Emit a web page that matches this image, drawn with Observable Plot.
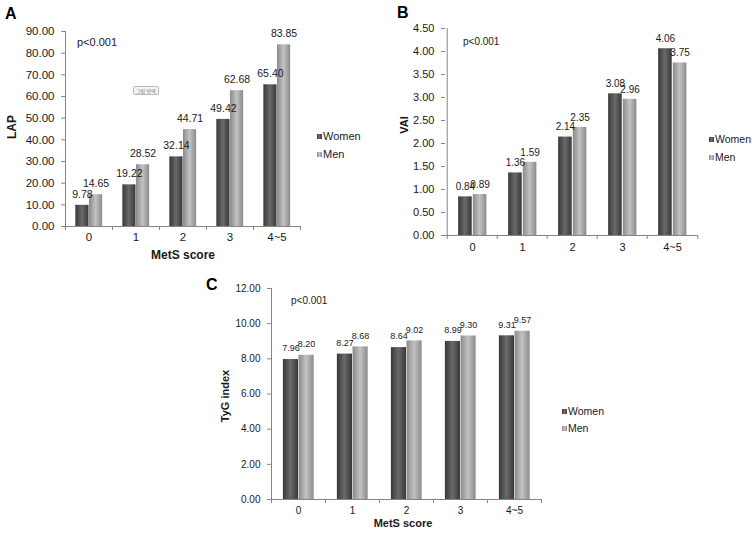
<!DOCTYPE html>
<html><head><meta charset="utf-8">
<script src="https://cdn.jsdelivr.net/npm/d3@7"></script>
<script src="https://cdn.jsdelivr.net/npm/@observablehq/plot@0.6"></script>
<style>
body{margin:0;background:#fff;font-family:"Liberation Sans",Arial,sans-serif;}
#root{position:relative;width:752px;height:534px;overflow:hidden;background:#fff}
.abs{position:absolute;white-space:nowrap;color:#1a1a1a;line-height:1}
.c{transform:translate(-50%,-50%)}
.r{transform:translate(-50%,-50%) rotate(-90deg)}
.b{font-weight:bold}
.sq{position:absolute;width:5px;height:5px}
.sw{background:linear-gradient(90deg,#3a3a3a,#6e6e6e 50%,#3a3a3a)}
.sm{background:linear-gradient(90deg,#8a8a8a,#c4c4c4 50%,#8a8a8a)}
svg [aria-label^="y-axis"] line, svg [aria-label="y-axis tick"] path{stroke:#868686}
</style></head>
<body><div id="root">
<svg width="0" height="0" style="position:absolute">
<defs>
<linearGradient id="gW" x1="0" x2="1" y1="0" y2="0">
<stop offset="0" stop-color="#383838"/><stop offset="0.5" stop-color="#6a6a6a"/><stop offset="1" stop-color="#383838"/>
</linearGradient>
<linearGradient id="gM" x1="0" x2="1" y1="0" y2="0">
<stop offset="0" stop-color="#8a8a8a"/><stop offset="0.5" stop-color="#c2c2c2"/><stop offset="1" stop-color="#8a8a8a"/>
</linearGradient>
</defs></svg>
</div>
<script>
const categories = ["0", "1", "2", "3", "4~5"];
const seriesNames = ["Women", "Men"];
const lapWomen = [9.78, 19.22, 32.14, 49.42, 65.40];
const lapMen = [14.65, 28.52, 44.71, 62.68, 83.85];
const vaiWomen = [0.84, 1.36, 2.14, 3.08, 4.06];
const vaiMen = [0.89, 1.59, 2.35, 2.96, 3.75];
const tygWomen = [7.96, 8.27, 8.64, 8.99, 9.31];
const tygMen = [8.20, 8.68, 9.02, 9.30, 9.57];
const lapTicks = [0, 10, 20, 30, 40, 50, 60, 70, 80, 90];
const vaiTicks = [0, 0.5, 1, 1.5, 2, 2.5, 3, 3.5, 4, 4.5];
const tygTicks = [0, 2, 4, 6, 8, 10, 12];
const pText = "p<0.001";
const xTitle = "MetS score";

const root = document.getElementById("root");

function add(html, cls, style) {
  const d = document.createElement("div");
  d.className = "abs " + (cls || "");
  d.textContent = html;
  Object.assign(d.style, style);
  root.appendChild(d);
  return d;
}

function panel(o) {
  const fw = o.width - o.ml - o.mr, fh = o.height - o.mt - o.mb;
  const bw = fw / categories.length;
  const ymax = o.ticks[o.ticks.length - 1];
  const W = categories.map((c, i) => ({c, s: seriesNames[0], v: o.women[i]}));
  const M = categories.map((c, i) => ({c, s: seriesNames[1], v: o.men[i]}));
  const wL = 0.22 * bw, wR = 0.50 * bw, mL = 0.51 * bw, mR = 0.79 * bw;
  const tl = ymax * 4 / fh;
  const stroke = "#868686";
  const p = Plot.plot({
    width: o.width, height: o.height,
    marginLeft: o.ml, marginRight: o.mr, marginTop: o.mt, marginBottom: o.mb,
    style: {fontFamily: '"Liberation Sans", Arial, sans-serif', fontSize: o.fs + "px", color: "#1a1a1a", background: "transparent", overflow: "visible"},
    x: {domain: categories, padding: 0, tickSize: 0, tickPadding: o.xpad, label: null},
    y: {domain: [0, ymax], ticks: o.ticks, tickFormat: d3.format(".2f"), tickSize: 4, tickPadding: o.ypad, label: null},
    marks: [
      Plot.barY(W, {x: "c", y: "v", fill: "url(#gW)", insetLeft: wL, insetRight: bw - wR}),
      Plot.barY(M, {x: "c", y: "v", fill: "url(#gM)", insetLeft: mL, insetRight: bw - mR}),
      Plot.ruleY([0], {stroke}),
      Plot.ruleX([categories[0]], {x: d => d, dx: -bw / 2, y1: 0, y2: ymax, stroke}),
      Plot.ruleX(categories, {x: d => d, dx: -bw / 2, y1: 0, y2: -tl, stroke}),
      Plot.ruleX([categories[categories.length - 1]], {x: d => d, dx: bw / 2, y1: 0, y2: -tl, stroke}),
      Plot.text(W, {x: "c", y: "v", text: d => d.v.toFixed(2), dx: (wL + wR) / 2 - bw / 2, dy: -o.ldy, fontSize: o.lfs, fill: "#1a1a1a"}),
      Plot.text(M, {x: "c", y: "v", text: d => d.v.toFixed(2), dx: (mL + mR) / 2 - bw / 2, dy: -o.ldy, fontSize: o.lfs, fill: "#1a1a1a"})
    ]
  });
  p.style.position = "absolute";
  p.style.left = o.left + "px";
  p.style.top = o.top + "px";
  root.appendChild(p);
}

// Panel A
panel({left: 0, top: 0, width: 310, height: 262, ml: 65, mr: 10, mt: 31, mb: 36,
  women: lapWomen, men: lapMen, ticks: lapTicks, fs: 11.5, xpad: 6, ypad: 7, lfs: 10.5, ldy: 11});
// Panel B
panel({left: 380, top: 0, width: 325, height: 262, ml: 65, mr: 7, mt: 28, mb: 27,
  women: vaiWomen, men: vaiMen, ticks: vaiTicks, fs: 11, xpad: 8, ypad: 7, lfs: 10, ldy: 10});
// Panel C
panel({left: 200, top: 265, width: 351, height: 269, ml: 71, mr: 10, mt: 23, mb: 35,
  women: tygWomen, men: tygMen, ticks: tygTicks, fs: 10, xpad: 7, ypad: 7, lfs: 9, ldy: 11});

// Panel letters
add("A", "b", {left: "5px", top: "6px", fontSize: "16px", color: "#000"});
add("B", "b", {left: "397px", top: "5px", fontSize: "16px", color: "#000"});
add("C", "b", {left: "206px", top: "277px", fontSize: "16px", color: "#000"});

// p values
add(pText, "", {left: "77px", top: "37px", fontSize: "11px"});
add(pText, "", {left: "463px", top: "37px", fontSize: "10px"});
add(pText, "", {left: "291px", top: "296px", fontSize: "10px"});

// axis titles
add("LAP", "r b", {left: "12px", top: "127px", fontSize: "12px"});
add("VAI", "r b", {left: "404px", top: "125px", fontSize: "11px"});
add("TyG index", "r b", {left: "225px", top: "396px", fontSize: "11px"});
add(xTitle, "c b", {left: "183px", top: "255px", fontSize: "12px"});
add(xTitle, "c b", {left: "403px", top: "523px", fontSize: "11px"});

// legends
function legend(x, y1, y2, fs) {
  const s1 = document.createElement("div"); s1.className = "sq sw";
  Object.assign(s1.style, {left: x + "px", top: (y1 - 2.5) + "px"}); root.appendChild(s1);
  const s2 = document.createElement("div"); s2.className = "sq sm";
  Object.assign(s2.style, {left: x + "px", top: (y2 - 2.5) + "px"}); root.appendChild(s2);
  add(seriesNames[0], "", {left: (x + 6) + "px", top: (y1 - fs / 2) + "px", fontSize: fs + "px"});
  add(seriesNames[1], "", {left: (x + 6) + "px", top: (y2 - fs / 2) + "px", fontSize: fs + "px"});
}
legend(317, 136, 154, 11);
legend(709, 139, 157, 10.5);
legend(562, 411, 428, 10.5);

// stray "plot area" tooltip artifact in panel A
add("그림 영역", "", {left: "133px", top: "86px", fontSize: "5px", padding: "1px 2px", border: "1px solid #bbb", borderRadius: "2px", background: "#f4f4f4", color: "#666", fontFamily: '"Noto Sans CJK KR", sans-serif'});
</script>
</body></html>
